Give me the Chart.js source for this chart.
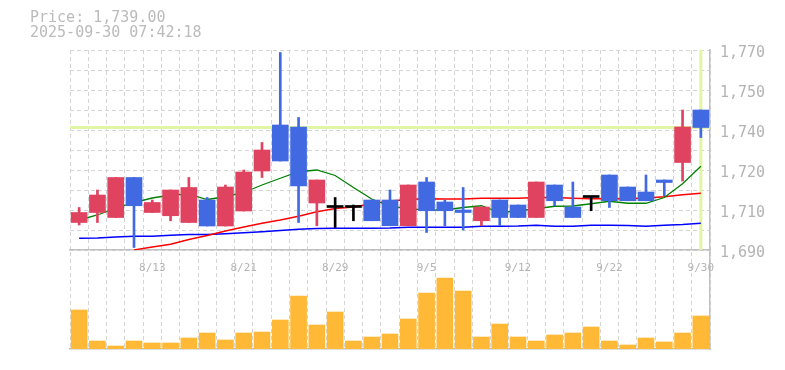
<!DOCTYPE html>
<html>
<head>
<meta charset="utf-8">
<script src="https://cdn.jsdelivr.net/npm/chart.js@4.4.1/dist/chart.umd.min.js"></script>
<style>
html, body { margin: 0; padding: 0; background: #fff; }
#wrap { position: relative; width: 785px; height: 370px; }
#wrap canvas { position: absolute; left: 0; top: 0; }
#info { position: absolute; left: 30px; top: 10px; font: 15px 'DejaVu Sans Mono', monospace; line-height: 15px; color: #bbb; white-space: pre; }
</style>
</head>
<body>
<div id="wrap">
  <canvas id="volume" width="785" height="370"></canvas>
  <canvas id="price" width="785" height="370"></canvas>
  <div id="info">Price: 1,739.00
2025-09-30 07:42:18</div>
</div>
<script>
// daily candles, 8/6 - 9/30
const dates = ['8/6','8/7','8/8','8/12','8/13','8/14','8/15','8/18','8/19','8/21',
               '8/22','8/25','8/26','8/27','8/29','9/1','9/2','9/3','9/4','9/5',
               '9/8','9/9','9/10','9/11','9/12','9/16','9/17','9/18','9/19','9/22',
               '9/24','9/25','9/26','9/29','9/30'];

const opens  = [1701,1705,1703,1719,1705,1703.7,1701,1710,1699.6,1705.6,
                1721.6,1740,1739.2,1708.8,1707,1707,1710,1710,1699.7,1717.2,
                1709.2,1706,1701.7,1710,1708,1703,1716,1707.2,1711,1720,
                1715.2,1713.2,1718,1725,1746];
const highs  = [1707,1714,1719,1719,1710,1714,1719,1711,1716,1722,
                1733,1769,1743,1718,1711,1708,1710,1714,1716,1719,
                1710,1715,1707.2,1710,1708,1717.2,1716,1717.2,1711.3,1720,
                1715.2,1720,1718,1746,1746];
const lows   = [1700,1701,1703,1691,1705,1701.7,1701,1699.6,1699.6,1705.6,
                1719,1725.6,1701,1699.7,1699,1701.7,1701.7,1699.7,1699.7,1697,
                1699.7,1698,1699.7,1699.7,1703,1703,1707.7,1703,1705.7,1707,
                1709.7,1709.7,1711.7,1717.6,1735];
const closes = [1705,1712,1719,1707.7,1709,1714,1715,1699.6,1715.2,1721.2,
                1730,1725.6,1715.6,1718,1707,1707,1701.7,1699.7,1716,1705.7,
                1705.7,1705,1707.2,1703,1703,1717.2,1709.7,1703,1711,1709.7,
                1709.7,1709.7,1717,1739.2,1739];

// moving averages
const ma5  = [1702,1704,1706.7,1709,1710.8,1712,1712.3,1710.2,1711.3,1713,
              1716,1718.7,1721.3,1722,1719.8,1715,1710.4,1707.5,1706.5,1706,
              1706,1707,1707.7,1705,1705.7,1706.5,1707.5,1707.6,1708.5,1709.5,
              1708.7,1708.7,1711,1716.5,1723.5];
const ma25 = [null,null,null,1690,1691.2,1692.3,1694.2,1695.8,1697.6,1699.2,
              1700.7,1702,1703.5,1705.3,1706.6,1707.2,1708.5,1709.6,1710.2,1710.5,
              1710.4,1710.4,1710.7,1710.7,1710.7,1711,1711,1710.7,1710.5,1710.5,
              1710.5,1710.8,1711.3,1712.1,1712.7];
const ma75 = [1694.7,1694.8,1695.2,1695.5,1695.5,1695.9,1696.2,1696.2,1696.5,1696.9,
              1697.3,1697.8,1698.3,1698.6,1698.7,1698.7,1698.7,1698.8,1699.1,1699.1,
              1699.1,1699.1,1699.5,1699.5,1699.6,1699.9,1699.5,1699.5,1699.9,1699.9,
              1699.8,1699.5,1699.9,1700.2,1700.7];

const volumes = [39000,8000,3000,8000,6000,6000,11000,16000,9000,16000,
                 17000,29000,53000,24000,37000,8000,12000,15000,30000,56000,
                 71000,58000,12000,25000,12000,8000,14000,16000,22000,8000,
                 4000,11000,7000,16000,33000];

const lastPrice = 1739;

const UP = '#e0435f', DOWN = '#4169e1', FLAT = '#000000';
const candleColors = opens.map((o, i) => closes[i] > o ? UP : (closes[i] < o ? DOWN : FLAT));

Chart.defaults.font.family = "'DejaVu Sans Mono', monospace";

const GRID = '#d4d4d4';
const AXIS = '#c0c0c0';

const markerLines = {
    id: 'markerLines',
    beforeDatasetsDraw(chart) {
        const { ctx, chartArea: a, scales: { x, y } } = chart;
        const py = y.getPixelForValue(lastPrice);
        const px = x.getPixelForValue(dates.length - 1);
        ctx.save();
        ctx.strokeStyle = '#e2f5a4';
        ctx.lineWidth = 3;
        ctx.beginPath();
        ctx.moveTo(a.left, py); ctx.lineTo(a.right, py);
        ctx.moveTo(px, a.top); ctx.lineTo(px, a.bottom);
        ctx.stroke();
        ctx.restore();
    }
};

new Chart(document.getElementById('price'), {
    type: 'bar',
    data: {
        labels: dates,
        datasets: [
            { label: 'body', data: opens.map((o, i) => [o, closes[i]]), backgroundColor: candleColors,
              barThickness: 16, minBarLength: 2, grouped: false, order: 0 },
            { label: 'wick', data: lows.map((l, i) => [l, highs[i]]), backgroundColor: candleColors,
              barThickness: 2, grouped: false, order: 1 },
            { type: 'line', label: 'MA5', data: ma5, borderColor: '#008000', borderWidth: 1.3,
              pointRadius: 0, tension: 0, order: 2 },
            { type: 'line', label: 'MA25', data: ma25, borderColor: '#ff0000', borderWidth: 1.3,
              pointRadius: 0, tension: 0, order: 3 },
            { type: 'line', label: 'MA75', data: ma75, borderColor: '#0000ff', borderWidth: 1.3,
              pointRadius: 0, tension: 0, order: 4 }
        ]
    },
    options: {
        responsive: false,
        animation: false,
        layout: { padding: { left: 70, top: 50, right: 0, bottom: 96 } },
        plugins: { legend: { display: false }, tooltip: { enabled: false } },
        scales: {
            x: {
                offset: true,
                afterFit: a => { a.height = 24; },
                grid: { offset: true, color: GRID, drawTicks: false },
                border: { color: AXIS, width: 1.5, dash: [4, 3] },
                ticks: {
                    autoSkip: false, maxRotation: 0, color: '#b4b4b4', padding: 12,
                    font: { size: 11 },
                    callback: (v, i) => (i % 5 === 4 ? dates[i] : '')
                }
            },
            y: {
                position: 'right',
                min: 1690, max: 1770,
                afterFit: a => { a.width = 75; },
                grid: { color: GRID, drawTicks: false },
                border: { color: AXIS, width: 1.5, dash: [4, 3] },
                ticks: {
                    stepSize: 8, autoSkip: false, color: '#b4b4b4', padding: 10, labelOffset: 3,
                    font: { size: 15 },
                    callback: v => ((v - 1690) % 16 === 0 ? (Math.round(v / 10) * 10).toLocaleString('en-US') : '')
                }
            }
        }
    },
    plugins: [markerLines]
});

new Chart(document.getElementById('volume'), {
    type: 'bar',
    data: {
        labels: dates,
        datasets: [{ label: 'Volume', data: volumes, backgroundColor: '#ffb936', barThickness: 16 }]
    },
    options: {
        responsive: false,
        animation: false,
        layout: { padding: { left: 70, top: 252, right: 0, bottom: 21 } },
        plugins: { legend: { display: false }, tooltip: { enabled: false } },
        scales: {
            x: {
                offset: true,
                afterFit: a => { a.height = 0; },
                grid: { offset: true, color: GRID, drawTicks: false },
                border: { color: AXIS, width: 1.5, dash: [4, 3] },
                ticks: { display: false }
            },
            y: {
                position: 'right',
                min: 0, max: 97000,
                afterFit: a => { a.width = 75; },
                grid: { display: false },
                border: { color: AXIS, width: 1.5 },
                ticks: { display: false }
            }
        }
    }
});
</script>
</body>
</html>
